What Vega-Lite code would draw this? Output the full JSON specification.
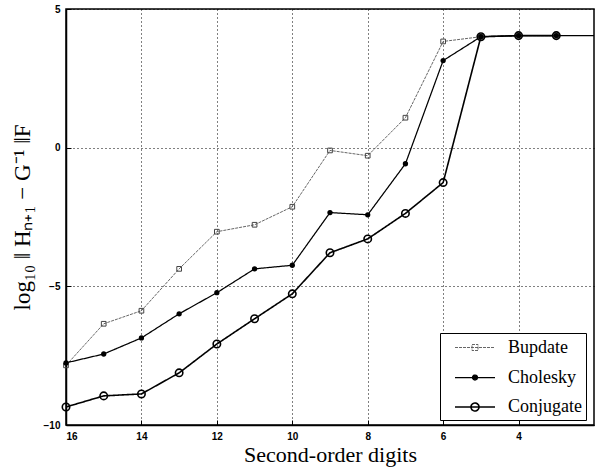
{
  "$schema": "https://vega.github.io/schema/vega-lite/v6.json",
  "width": 528,
  "height": 416,
  "autosize": {"type": "none"},
  "padding": {"left": 66, "top": 9, "right": 1, "bottom": 43},
  "background": "white",
  "data": {"values": [
    {"series": "Bupdate", "x": 16, "y": -7.85},
    {"series": "Bupdate", "x": 15, "y": -6.35},
    {"series": "Bupdate", "x": 14, "y": -5.88},
    {"series": "Bupdate", "x": 13, "y": -4.37},
    {"series": "Bupdate", "x": 12, "y": -3.03},
    {"series": "Bupdate", "x": 11, "y": -2.78},
    {"series": "Bupdate", "x": 10, "y": -2.13},
    {"series": "Bupdate", "x": 9, "y": -0.1},
    {"series": "Bupdate", "x": 8, "y": -0.29},
    {"series": "Bupdate", "x": 7, "y": 1.08},
    {"series": "Bupdate", "x": 6, "y": 3.83},
    {"series": "Bupdate", "x": 5, "y": 4.0},
    {"series": "Bupdate", "x": 4, "y": 4.04},
    {"series": "Bupdate", "x": 3, "y": 4.04},
    {"series": "Cholesky", "x": 16, "y": -7.76},
    {"series": "Cholesky", "x": 15, "y": -7.44},
    {"series": "Cholesky", "x": 14, "y": -6.86},
    {"series": "Cholesky", "x": 13, "y": -5.99},
    {"series": "Cholesky", "x": 12, "y": -5.23},
    {"series": "Cholesky", "x": 11, "y": -4.37},
    {"series": "Cholesky", "x": 10, "y": -4.24},
    {"series": "Cholesky", "x": 9, "y": -2.34},
    {"series": "Cholesky", "x": 8, "y": -2.42},
    {"series": "Cholesky", "x": 7, "y": -0.58},
    {"series": "Cholesky", "x": 6, "y": 3.14},
    {"series": "Cholesky", "x": 5, "y": 4.0},
    {"series": "Cholesky", "x": 4, "y": 4.04},
    {"series": "Cholesky", "x": 3, "y": 4.04},
    {"series": "Cholesky", "x": 2, "y": 4.04},
    {"series": "Conjugate", "x": 16, "y": -9.35},
    {"series": "Conjugate", "x": 15, "y": -8.95},
    {"series": "Conjugate", "x": 14, "y": -8.88},
    {"series": "Conjugate", "x": 13, "y": -8.12},
    {"series": "Conjugate", "x": 12, "y": -7.08},
    {"series": "Conjugate", "x": 11, "y": -6.17},
    {"series": "Conjugate", "x": 10, "y": -5.27},
    {"series": "Conjugate", "x": 9, "y": -3.79},
    {"series": "Conjugate", "x": 8, "y": -3.29},
    {"series": "Conjugate", "x": 7, "y": -2.37},
    {"series": "Conjugate", "x": 6, "y": -1.26},
    {"series": "Conjugate", "x": 5, "y": 4.0},
    {"series": "Conjugate", "x": 4, "y": 4.04},
    {"series": "Conjugate", "x": 3, "y": 4.04}
  ]},
  "encoding": {
    "x": {"field": "x", "type": "quantitative",
      "scale": {"domain": [2, 16], "reverse": true, "nice": false, "zero": false},
      "axis": {"values": [16, 14, 12, 10, 8, 6, 4], "title": "Second-order digits"}},
    "y": {"field": "y", "type": "quantitative",
      "scale": {"domain": [-10, 5], "nice": false, "zero": false},
      "axis": {"values": [-10, -5, 0, 5], "title": "log₁₀ ‖ Hₙ₊₁ − G⁻¹ ‖F"}}
  },
  "layer": [
    {
      "mark": {"type": "line", "clip": true},
      "encoding": {
        "color": {"field": "series", "type": "nominal",
          "scale": {"domain": ["Bupdate", "Cholesky", "Conjugate"], "range": ["#555555", "black", "black"]},
          "legend": {
            "title": null,
            "orient": "none",
            "legendX": 374,
            "legendY": 324,
            "symbolSize": 400,
            "encode": {
              "symbols": {"update": {
                "shape": [
                  {"test": "datum.value === 'Bupdate'", "value": "M-2,0H2M-0.3,-0.3H0.3V0.3H-0.3Z"},
                  {"test": "datum.value === 'Cholesky'", "value": "M-2,0H2M-0.25,0A0.25,0.25,0,1,1,0.25,0A0.25,0.25,0,1,1,-0.25,0Z"},
                  {"value": "M-2,0H2M-0.4,0A0.4,0.4,0,1,1,0.4,0A0.4,0.4,0,1,1,-0.4,0Z"}
                ],
                "fill": [{"test": "datum.value === 'Cholesky'", "value": "black"}, {"value": "transparent"}],
                "strokeDash": [{"test": "datum.value === 'Bupdate'", "value": [2, 1]}, {"value": []}],
                "strokeWidth": [{"test": "datum.value === 'Bupdate'", "value": 0.9}, {"value": 1.6}],
                "stroke": [{"test": "datum.value === 'Bupdate'", "value": "#444444"}, {"value": "black"}],
                "opacity": {"value": 1}
              }}
            }
          }},
        "strokeWidth": {"field": "series", "type": "nominal",
          "scale": {"domain": ["Bupdate", "Cholesky", "Conjugate"], "range": [0.9, 1.6, 1.6]}, "legend": null},
        "strokeDash": {"field": "series", "type": "nominal",
          "scale": {"domain": ["Bupdate", "Cholesky", "Conjugate"], "range": [[3, 1], [1, 0], [1, 0]]}, "legend": null}
      }
    },
    {
      "transform": [{"filter": "datum.series === 'Bupdate'"}],
      "mark": {"type": "point", "shape": "square", "filled": false, "size": 22, "stroke": "#444444", "strokeWidth": 1, "opacity": 1}
    },
    {
      "transform": [{"filter": "datum.series === 'Conjugate'"}],
      "mark": {"type": "point", "shape": "circle", "filled": false, "size": 55, "stroke": "black", "strokeWidth": 1.6, "opacity": 1}
    },
    {
      "transform": [{"filter": "datum.series === 'Cholesky' && datum.x > 2"}],
      "mark": {"type": "point", "shape": "circle", "filled": true, "size": 28, "fill": "black", "opacity": 1}
    }
  ],
  "config": {
    "view": {"stroke": "black", "strokeWidth": 1.5},
    "axis": {
      "grid": true,
      "gridColor": "black",
      "gridDash": [1, 3],
      "gridWidth": 1,
      "gridOpacity": 1,
      "domain": true,
      "domainColor": "black",
      "domainWidth": 1.5,
      "tickColor": "black",
      "tickSize": -5,
      "labelFont": "Liberation Sans",
      "labelFontWeight": "bold",
      "labelFontSize": 10,
      "labelColor": "black",
      "labelPadding": 11,
      "titleFont": "Liberation Serif",
      "titleFontWeight": "normal",
      "titleColor": "black"
    },
    "axisX": {"titlePadding": 3, "titleFontSize": 22},
    "axisY": {"titlePadding": 9, "titleFontSize": 23},
    "legend": {
      "strokeColor": "black",
      "fillColor": "white",
      "padding": 4,
      "cornerRadius": 0,
      "labelFont": "Liberation Serif",
      "labelFontSize": 18,
      "labelColor": "black",
      "rowPadding": 9.5,
      "symbolOffset": 20,
      "labelOffset": 22
    }
  }
}
